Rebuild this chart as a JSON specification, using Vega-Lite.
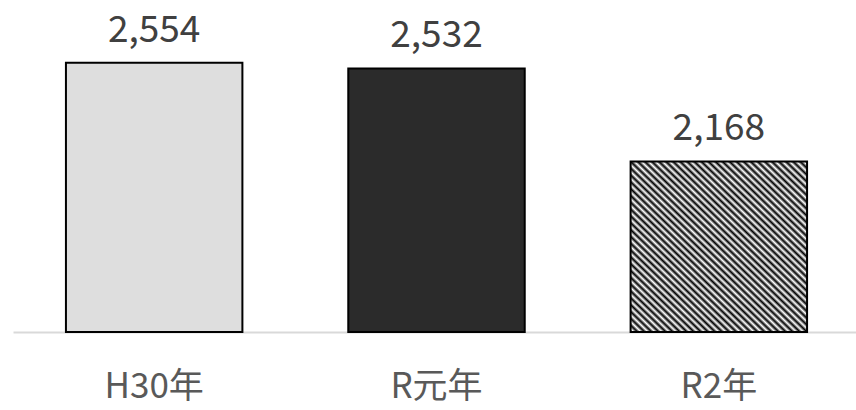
{
  "$schema": "https://vega.github.io/schema/vega-lite/v6.json",
  "width": 847,
  "height": 332,
  "autosize": "none",
  "padding": {"left": 13, "top": 0, "right": 0, "bottom": 78},
  "background": "white",
  "config": {"view": {"stroke": null}},
  "data": {"values": [
    {"year": "H30年", "value": 2554},
    {"year": "R元年", "value": 2532},
    {"year": "R2年", "value": 2168}
  ]},
  "encoding": {
    "x": {"field": "year", "type": "nominal", "sort": null,
      "scale": {"paddingInner": 0.375, "paddingOuter": 0.1875},
      "axis": {"title": null, "ticks": false, "tickSize": 0, "domainColor": "#d9d9d9", "domainWidth": 2,
        "labelAngle": 0, "labelFont": "Noto Sans CJK JP", "labelFontSize": 35, "labelColor": "#595959",
        "labelBaseline": "alphabetic", "labelPadding": 65}},
    "y": {"field": "value", "type": "quantitative",
      "scale": {"domain": [1500, 2800], "zero": false, "nice": false}, "axis": null}
  },
  "layer": [
    {
      "mark": {"type": "bar", "stroke": "#000000", "strokeWidth": 2},
      "encoding": {
        "y2": {"datum": 1500},
        "fill": {
          "condition": {"test": "datum.year === 'R2年'", "value": {
            "gradient": "linear", "x1": 0, "y1": 1, "x2": 1, "y2": 0,
            "stops": [
              {"offset": 0, "color": "#000"}, {"offset": 0.01, "color": "#fff"},
              {"offset": 0.02, "color": "#000"}, {"offset": 0.03, "color": "#fff"},
              {"offset": 0.04, "color": "#000"}, {"offset": 0.05, "color": "#fff"},
              {"offset": 0.06, "color": "#000"}, {"offset": 0.07, "color": "#fff"},
              {"offset": 0.08, "color": "#000"}, {"offset": 0.09, "color": "#fff"},
              {"offset": 0.10, "color": "#000"}, {"offset": 0.11, "color": "#fff"},
              {"offset": 0.12, "color": "#000"}, {"offset": 0.13, "color": "#fff"},
              {"offset": 0.14, "color": "#000"}, {"offset": 0.15, "color": "#fff"},
              {"offset": 0.16, "color": "#000"}, {"offset": 0.17, "color": "#fff"},
              {"offset": 0.18, "color": "#000"}, {"offset": 0.19, "color": "#fff"},
              {"offset": 0.20, "color": "#000"}, {"offset": 0.21, "color": "#fff"},
              {"offset": 0.22, "color": "#000"}, {"offset": 0.23, "color": "#fff"},
              {"offset": 0.24, "color": "#000"}, {"offset": 0.25, "color": "#fff"},
              {"offset": 0.26, "color": "#000"}, {"offset": 0.27, "color": "#fff"},
              {"offset": 0.28, "color": "#000"}, {"offset": 0.29, "color": "#fff"},
              {"offset": 0.30, "color": "#000"}, {"offset": 0.31, "color": "#fff"},
              {"offset": 0.32, "color": "#000"}, {"offset": 0.33, "color": "#fff"},
              {"offset": 0.34, "color": "#000"}, {"offset": 0.35, "color": "#fff"},
              {"offset": 0.36, "color": "#000"}, {"offset": 0.37, "color": "#fff"},
              {"offset": 0.38, "color": "#000"}, {"offset": 0.39, "color": "#fff"},
              {"offset": 0.40, "color": "#000"}, {"offset": 0.41, "color": "#fff"},
              {"offset": 0.42, "color": "#000"}, {"offset": 0.43, "color": "#fff"},
              {"offset": 0.44, "color": "#000"}, {"offset": 0.45, "color": "#fff"},
              {"offset": 0.46, "color": "#000"}, {"offset": 0.47, "color": "#fff"},
              {"offset": 0.48, "color": "#000"}, {"offset": 0.49, "color": "#fff"},
              {"offset": 0.50, "color": "#000"}, {"offset": 0.51, "color": "#fff"},
              {"offset": 0.52, "color": "#000"}, {"offset": 0.53, "color": "#fff"},
              {"offset": 0.54, "color": "#000"}, {"offset": 0.55, "color": "#fff"},
              {"offset": 0.56, "color": "#000"}, {"offset": 0.57, "color": "#fff"},
              {"offset": 0.58, "color": "#000"}, {"offset": 0.59, "color": "#fff"},
              {"offset": 0.60, "color": "#000"}, {"offset": 0.61, "color": "#fff"},
              {"offset": 0.62, "color": "#000"}, {"offset": 0.63, "color": "#fff"},
              {"offset": 0.64, "color": "#000"}, {"offset": 0.65, "color": "#fff"},
              {"offset": 0.66, "color": "#000"}, {"offset": 0.67, "color": "#fff"},
              {"offset": 0.68, "color": "#000"}, {"offset": 0.69, "color": "#fff"},
              {"offset": 0.70, "color": "#000"}, {"offset": 0.71, "color": "#fff"},
              {"offset": 0.72, "color": "#000"}, {"offset": 0.73, "color": "#fff"},
              {"offset": 0.74, "color": "#000"}, {"offset": 0.75, "color": "#fff"},
              {"offset": 0.76, "color": "#000"}, {"offset": 0.77, "color": "#fff"},
              {"offset": 0.78, "color": "#000"}, {"offset": 0.79, "color": "#fff"},
              {"offset": 0.80, "color": "#000"}, {"offset": 0.81, "color": "#fff"},
              {"offset": 0.82, "color": "#000"}, {"offset": 0.83, "color": "#fff"},
              {"offset": 0.84, "color": "#000"}, {"offset": 0.85, "color": "#fff"},
              {"offset": 0.86, "color": "#000"}, {"offset": 0.87, "color": "#fff"},
              {"offset": 0.88, "color": "#000"}, {"offset": 0.89, "color": "#fff"},
              {"offset": 0.90, "color": "#000"}, {"offset": 0.91, "color": "#fff"},
              {"offset": 0.92, "color": "#000"}, {"offset": 0.93, "color": "#fff"},
              {"offset": 0.94, "color": "#000"}, {"offset": 0.95, "color": "#fff"},
              {"offset": 0.96, "color": "#000"}, {"offset": 0.97, "color": "#fff"},
              {"offset": 0.98, "color": "#000"}, {"offset": 0.99, "color": "#fff"},
              {"offset": 1, "color": "#000"}
            ]}},
          "field": "year", "type": "nominal", "legend": null,
          "scale": {"domain": ["H30年", "R元年", "R2年"], "range": ["#dedede", "#2b2b2b", "#808080"]}
        }
      }
    },
    {
      "mark": {"type": "text", "baseline": "alphabetic", "dy": -21, "font": "Noto Sans CJK JP", "fontSize": 37, "color": "#404040"},
      "encoding": {"text": {"field": "value", "type": "quantitative", "format": ","}}
    }
  ]
}
